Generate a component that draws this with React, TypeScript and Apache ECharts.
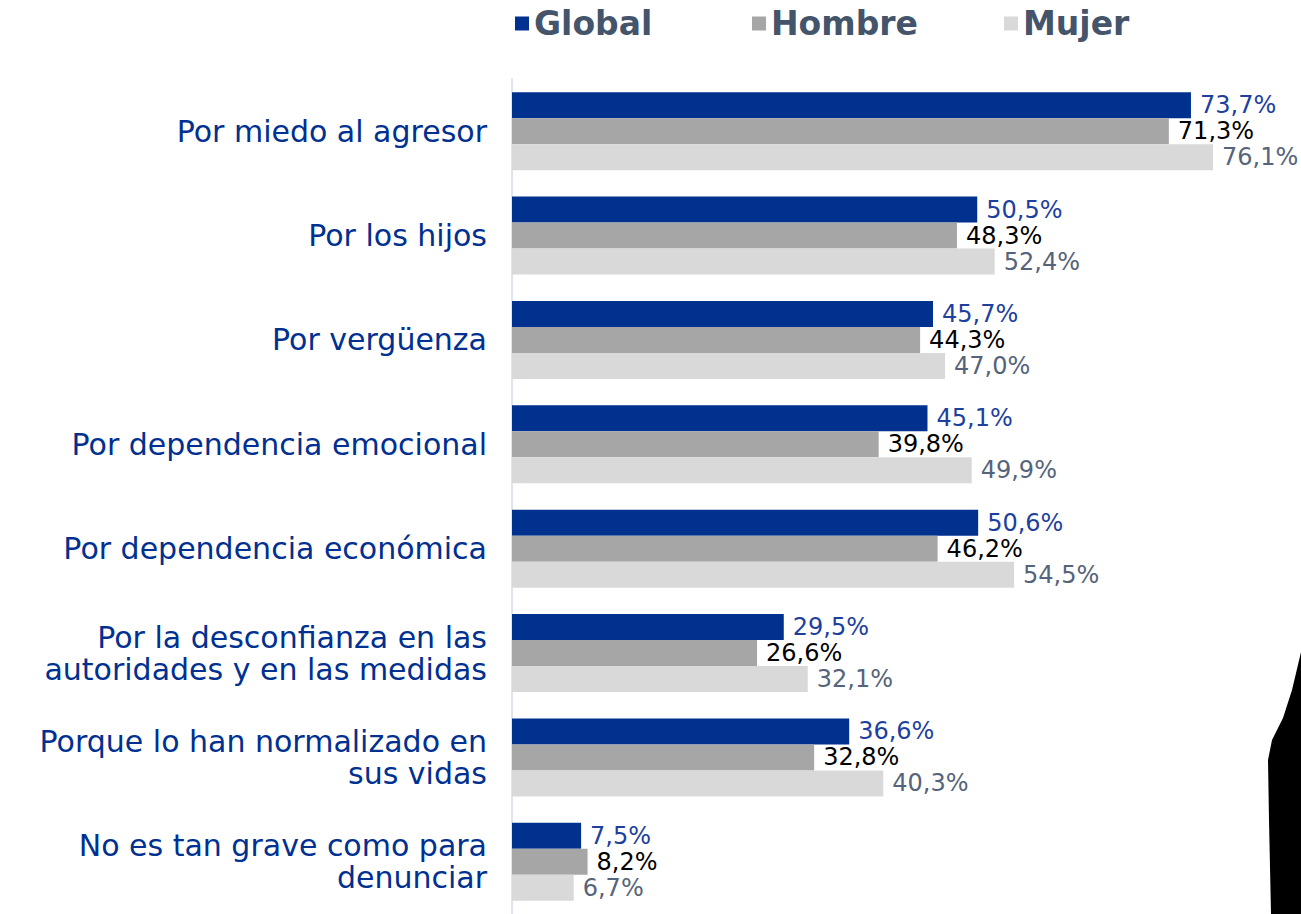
import React, { useEffect, useRef } from "react";
import * as echarts from "echarts";

const categories = [
  "Por miedo al agresor",
  "Por los hijos",
  "Por vergüenza",
  "Por dependencia emocional",
  "Por dependencia económica",
  "Por la desconfianza en las\nautoridades y en las medidas",
  "Porque lo han normalizado en\nsus vidas",
  "No es tan grave como para\ndenunciar",
];
const globalVals = [73.7, 50.5, 45.7, 45.1, 50.6, 29.5, 36.6, 7.5];
const hombreVals = [71.3, 48.3, 44.3, 39.8, 46.2, 26.6, 32.8, 8.2];
const mujerVals = [76.1, 52.4, 47.0, 49.9, 54.5, 32.1, 40.3, 6.7];
const seriesNames = ["Global", "Hombre", "Mujer"];

const FONT = "DejaVu Sans";

export default function App() {
  const ref = useRef<HTMLDivElement>(null);
  useEffect(() => {
    const chart = echarts.init(ref.current!, null, { renderer: "svg" });
    const fmt = (p: any) => p.value.toFixed(1).replace(".", ",") + "%";
    const mk = (name: string, data: number[], color: string, labelColor: string) => ({
      name,
      type: "bar",
      data,
      barWidth: 26,
      barGap: "0%",
      itemStyle: { color },
      label: {
        show: true,
        position: "right",
        distance: 9,
        formatter: fmt,
        color: labelColor,
        fontSize: 24,
        lineHeight: 26,
        fontFamily: FONT,
        fontWeight: "normal",
      },
    });
    const legendText = { fontSize: 33, fontWeight: "bold", color: "#44546a", fontFamily: FONT };
    const legendBase = { top: 2, itemWidth: 14, itemHeight: 14, icon: "rect", textStyle: legendText, itemGap: 8, selectedMode: false };
    chart.setOption({
      animation: false,
      legend: [
        { ...legendBase, left: 510, data: ["Global"] },
        { ...legendBase, left: 747, data: ["Hombre"] },
        { ...legendBase, left: 999, data: ["Mujer"] },
      ],
      grid: { left: 512, top: 79, width: 737, height: 840, containLabel: false },
      xAxis: { type: "value", min: 0, max: 80, show: false },
      yAxis: {
        type: "category",
        data: categories,
        inverse: true,
        axisLine: { show: true, lineStyle: { color: "#dfe4ea", width: 2 } },
        axisTick: { show: false },
        axisLabel: {
          margin: 25,
          color: "#003090",
          fontSize: 30,
          fontFamily: FONT,
          lineHeight: 32,
          align: "right",
        },
      },
      series: [
        mk(seriesNames[0], globalVals, "#00318f", "#1d3f9e"),
        mk(seriesNames[1], hombreVals, "#a6a6a6", "#000000"),
        mk(seriesNames[2], mujerVals, "#d9d9d9", "#55647a"),
      ],
      graphic: [
        {
          type: "polygon",
          shape: {
            points: [
              [1301, 652], [1292, 690], [1283, 718], [1272, 740], [1268, 760],
              [1269, 820], [1271, 914], [1301, 914],
            ],
          },
          style: { fill: "#000" },
        },
      ],
    });
    return () => chart.dispose();
  }, []);
  return <div ref={ref} style={{ position: "absolute", left: 0, top: 0, width: 1301, height: 914 }} />;
}
